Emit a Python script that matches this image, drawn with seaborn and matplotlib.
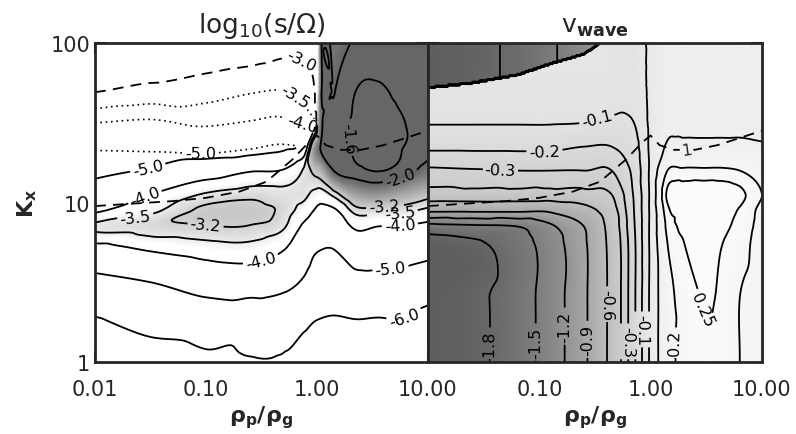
import numpy as np
import matplotlib
matplotlib.use("Agg")
import matplotlib.pyplot as plt
import matplotlib.tri as mtri
from matplotlib.path import Path
from matplotlib.colors import LinearSegmentedColormap
import seaborn as sns

# ---------------- data ----------------
# sampling grid of the left panel (log10 rho_p/rho_g, log10 K_x)
log_rho_left = [-2.0, -1.5, -1.0, -0.6, -0.3, -0.12, -0.03, 0.03, 0.15, 0.35, 0.55, 0.75, 1.0]
log_K_left = [0.0, 0.25, 0.5, 0.7, 0.85, 0.95, 1.05, 1.2, 1.35, 1.5, 1.7, 2.0]

# log10(s/Omega) of the main (solid) branch, one row per K value
log_s_main = [
    [-6.6, -6.5, -6.15, -6.03, -6.08, -6.4, -6.5, -6.6, -6.7, -6.8, -6.7, -6.6, -6.5],
    [-6.1, -5.7, -5.6, -5.75, -5.7, -5.85, -6.0, -6.05, -6.1, -6.05, -6.08, -6.05, -6.3],
    [-5.25, -5.0, -4.6, -4.5, -4.75, -5.1, -5.4, -5.5, -5.5, -5.3, -5.3, -5.3, -5.5],
    [-4.3, -3.97, -3.75, -3.7, -4.0, -4.5, -4.9, -5.0, -5.02, -4.5, -4.5, -4.6, -4.75],
    [-3.42, -3.3, -3.22, -3.22, -3.45, -4.1, -4.4, -4.6, -4.5, -3.9, -4.0, -4.05, -4.15],
    [-4.1, -3.6, -3.12, -3.1, -3.3, -3.7, -4.0, -4.2, -4.1, -3.35, -3.35, -3.4, -3.6],
    [-4.6, -4.0, -3.45, -3.3, -3.38, -3.4, -3.6, -3.7, -3.4, -2.7, -2.55, -2.75, -3.05],
    [-5.2, -4.9, -4.4, -4.05, -3.95, -3.45, -3.1, -2.9, -2.0, -1.72, -1.58, -1.75, -2.2],
    [-5.8, -5.6, -5.6, -5.5, -5.2, -4.6, -2.7, -2.0, -1.85, -1.55, -1.48, -1.57, -1.85],
    [-6.3, -6.2, -6.3, -6.3, -6.0, -5.8, -4.5, -2.3, -1.85, -1.53, -1.45, -1.57, -1.75],
    [-7.0, -6.8, -6.9, -6.9, -6.7, -6.5, -6.0, -2.3, -2.03, -1.6, -1.55, -1.68, -1.8],
    [-7.5, -7.5, -7.5, -7.5, -7.3, -7.2, -7.0, -2.4, -2.2, -1.95, -1.85, -1.9, -2.0],
]

# log10(s/Omega) of the upper (dotted) branch
log_s_upper = [
    [-9.0] * 13,
    [-9.0] * 13,
    [-9.0] * 13,
    [-9.0] * 13,
    [-9.0] * 13,
    [-8.5, -8.5, -8.5, -8.5, -8.5, -8.5, -8.5, -9.0, -9.0, -9.0, -9.0, -9.0, -9.0],
    [-7.5, -7.5, -7.5, -7.5, -7.5, -7.5, -7.5, -9.0, -9.0, -9.0, -9.0, -9.0, -9.0],
    [-5.8, -5.9, -5.9, -6.0, -6.2, -6.0, -6.0, -9.0, -9.0, -9.0, -9.0, -9.0, -9.0],
    [-4.85, -4.8, -4.7, -4.9, -5.1, -4.9, -4.5, -9.0, -9.0, -9.0, -9.0, -9.0, -9.0],
    [-4.0, -4.1, -3.9, -4.05, -4.15, -3.95, -3.8, -2.6, -9.0, -9.0, -9.0, -9.0, -9.0],
    [-2.97, -3.15, -3.3, -3.45, -3.5, -3.3, -3.1, -2.6, -9.0, -9.0, -9.0, -9.0, -9.0],
    [-2.4, -2.5, -2.5, -2.6, -2.8, -2.85, -2.8, -2.6, -9.0, -9.0, -9.0, -9.0, -9.0],
]
levels_main = [-6.0, -5.0, -4.0, -3.5, -3.2, -2.0, -1.6]
levels_upper = [-5.0, -4.0, -3.5]
level_upper_dashed = [-3.0]

# contour label anchors (rho, K) for the left panel
label_at_main = [(5.6, 2.2), (4.6, 3.7), (0.3, 4.9), (5.6, 7.3), (5.6, 8.6), (4.0, 10.3),
                 (5.6, 14.5), (1.7, 25), (0.1, 7.7), (0.023, 8.1), (0.028, 11), (0.03, 16.7)]
label_at_upper = [(0.09, 20.4), (0.78, 34), (0.6, 44.7)]
label_at_dashed = [(0.71, 77)]

# sampling grid of the right panel
log_rho_right = [-2.0, -1.6, -1.2, -0.9, -0.6, -0.35, -0.15, 0.0, 0.15, 0.3, 0.48, 0.65, 0.8, 1.0]
log_K_right = [0.0, 0.4, 0.75, 0.85, 0.95, 1.05, 1.2, 1.35, 1.5, 1.65, 1.72, 1.8, 1.9, 2.0]
v_wave = [
    [-1.95, -1.87, -1.64, -1.36, -0.95, -0.53, -0.22, 0.02, 0.17, 0.215, 0.245, 0.235, 0.2, 0.17],
    [-1.95, -1.87, -1.64, -1.36, -0.95, -0.53, -0.22, 0.02, 0.17, 0.22, 0.253, 0.24, 0.2, 0.17],
    [-1.92, -1.84, -1.62, -1.35, -0.94, -0.52, -0.22, 0.02, 0.2, 0.25, 0.265, 0.25, 0.225, 0.17],
    [-1.6, -1.55, -1.5, -1.25, -0.9, -0.5, -0.21, 0.02, 0.215, 0.258, 0.268, 0.258, 0.235, 0.175],
    [-0.85, -0.85, -0.85, -0.85, -0.7, -0.46, -0.2, 0.02, 0.235, 0.265, 0.272, 0.265, 0.245, 0.18],
    [-0.48, -0.47, -0.47, -0.47, -0.45, -0.4, -0.19, 0.02, 0.26, 0.285, 0.29, 0.285, 0.265, 0.2],
    [-0.32, -0.31, -0.3, -0.3, -0.3, -0.3, -0.17, 0.02, 0.2, 0.21, 0.21, 0.21, 0.2, 0.17],
    [-0.18, -0.18, -0.18, -0.18, -0.2, -0.2, -0.14, 0.02, 0.11, 0.12, 0.12, 0.12, 0.12, 0.11],
    [-0.095, -0.095, -0.095, -0.095, -0.1, -0.12, -0.1, 0.02, 0.08, 0.08, 0.08, 0.08, 0.08, 0.08],
    [-0.06, -0.06, -0.06, -0.06, -0.06, -0.07, -0.07, 0.02, 0.08, 0.08, 0.08, 0.08, 0.08, 0.08],
    [-0.055, -0.055, -0.055, -0.055, -0.055, -0.06, -0.06, 0.02, 0.08, 0.08, 0.08, 0.08, 0.08, 0.08],
    [-0.05, -0.05, -0.05, -0.05, -0.05, -0.05, -0.05, 0.02, 0.08, 0.08, 0.08, 0.08, 0.08, 0.08],
    [-0.05, -0.05, -0.05, -0.05, -0.05, -0.05, -0.05, 0.02, 0.08, 0.08, 0.08, 0.08, 0.08, 0.08],
    [-0.05, -0.05, -0.05, -0.05, -0.05, -0.05, -0.05, 0.02, 0.08, 0.08, 0.08, 0.08, 0.08, 0.08],
]
# dark cap in the upper left of the right panel: lower edge (log10 K) and value, per column
cap_edge_logK = [1.72, 1.75, 1.8, 1.87, 1.93, 2.05, 2.1, 2.1, 2.1, 2.1, 2.1, 2.1, 2.1, 2.1]
cap_value = [-1.95, -1.88, -1.75, -1.55, -1.3, -1.1, -1.0, -1.0, -1.0, -1.0, -1.0, -1.0, -1.0, -1.0]
levels_right = [-1.8, -1.5, -1.2, -0.9, -0.6, -0.4, -0.3, -0.2, -0.1, 0.0, 0.1, 0.2, 0.25]
label_at_right = [(0.35, 30), (0.112, 21), (0.045, 17.9), (0.035, 1.26), (0.095, 1.33),
                  (0.155, 1.68), (0.26, 1.39), (0.41, 2.3), (0.66, 1.35),
                  (0.85, 1.6), (1.49, 1.33), (2.9, 2.15)]
dash_label = "1"
dash_label_at = (2.1, 21.4)

# dashed curve drawn in both panels
rho_dash = [0.01, 0.02, 0.05, 0.1, 0.2, 0.35, 0.6, 0.85, 1.0, 1.2, 1.6, 2.5, 4.0, 6.0, 10.0]
K_dash = [9.5, 9.8, 10.2, 10.7, 11.7, 13.5, 18.6, 24.0, 26.3, 22.9, 21.4, 21.4, 22.9, 25.1, 28.2]

x_ticks = [0.01, 0.1, 1.0, 10.0]
x_ticklabels_left = ["0.01", "0.10", "1.00", "10.00"]
x_ticklabels_right = ["", "0.10", "1.00", "10.00"]
y_ticks = [1, 10, 100]
y_ticklabels = ["1", "10", "100"]

# ---------------- helpers ----------------
def smooth_field(log_x, log_y, table, nx=361, ny=241):
    """Cubic (matplotlib.tri) resampling of a table onto a fine regular grid."""
    gx, gy = np.meshgrid(np.asarray(log_x, float), np.asarray(log_y, float))
    tri = mtri.Triangulation(gx.ravel(), gy.ravel())
    interp = mtri.CubicTriInterpolator(tri, np.asarray(table, float).ravel(), kind="geom")
    eps = 1e-9
    ux = np.linspace(min(log_x) + eps, max(log_x) - eps, nx)
    vy = np.linspace(min(log_y) + eps, max(log_y) - eps, ny)
    UX, VY = np.meshgrid(ux, vy)
    Z = np.ma.filled(interp(UX, VY), np.nan)
    return UX, VY, Z


def fmt_level(v):
    if abs(round(v, 1) - v) > 1e-6:
        return "%.2f" % v
    return "%.1f" % v


def cut_label_gaps(ax, cs, texts, pad=2.0):
    """Open a gap in the contour lines under each label (like inline labels)."""
    renderer = ax.figure.canvas.get_renderer()
    boxes = []
    for t in texts:
        rot = t.get_rotation()
        t.set_rotation(0)
        bb = t.get_window_extent(renderer)
        t.set_rotation(rot)
        cx, cy = ax.transData.transform(t.get_position())
        th = np.deg2rad(rot)
        boxes.append((cx, cy, bb.width / 2 + pad, bb.height / 2, np.cos(th), np.sin(th)))
    new_paths = []
    for p in cs.get_paths():
        v = np.array(p.vertices, float)
        if len(v) == 0 or not boxes:
            new_paths.append(p)
            continue
        if p.codes is None:
            c = np.full(len(v), Path.LINETO, dtype=Path.code_type)
            c[0] = Path.MOVETO
        else:
            c = np.array(p.codes, dtype=Path.code_type)
        last = 0
        for i in range(len(c)):
            if c[i] == Path.MOVETO:
                last = i
            elif c[i] == Path.CLOSEPOLY:
                v[i] = v[last]
                c[i] = Path.LINETO
        d = ax.transData.transform(v)
        keep = np.ones(len(v), bool)
        for cx, cy, hw, hh, co, si in boxes:
            dx = d[:, 0] - cx
            dy = d[:, 1] - cy
            xr = dx * co + dy * si
            yr = -dx * si + dy * co
            keep &= ~((np.abs(xr) < hw) & (np.abs(yr) < hh))
        newc = c.copy()
        prev = False
        for i in range(len(c)):
            if keep[i]:
                if not prev:
                    newc[i] = Path.MOVETO
                prev = True
            else:
                prev = False
        new_paths.append(Path(v[keep], newc[keep]))
    cs._paths = new_paths


def label(ax, cs, anchors, size=11.5):
    texts = ax.clabel(cs, fmt=fmt_level, fontsize=size, inline=False, manual=anchors)
    cut_label_gaps(ax, cs, texts)


# ---------------- style ----------------
sns.set_style("ticks")
plt.rcParams["font.family"] = ["DejaVu Sans"]
plt.rcParams["axes.linewidth"] = 2.0
plt.rcParams["mathtext.default"] = "regular"
plt.rcParams["contour.negative_linestyle"] = "solid"

fig = plt.figure(figsize=(7.96, 4.35), dpi=100)
ax1 = fig.add_axes([95 / 796, 72 / 435, 333 / 796, 319 / 435])
ax2 = fig.add_axes([428 / 796, 72 / 435, 334 / 796, 319 / 435])

for ax in (ax1, ax2):
    ax.set_xscale("log")
    ax.set_yscale("log")
    ax.set_xlim(0.01, 10)
    ax.set_ylim(1, 100)
    ax.tick_params(which="both", direction="in", top=True, right=True, width=1.5, labelsize=15)
    ax.tick_params(which="major", length=8)
    ax.tick_params(which="minor", length=4)
    ax.tick_params(axis="x", which="major", pad=12)
    ax.set_xlabel(r"$\rho_{p}/\rho_{g}$", fontsize=16, fontweight="bold", labelpad=3)
    for s in ax.spines.values():
        s.set_linewidth(2.0)
        s.set_zorder(5)

ax1.set_xticks(x_ticks, labels=x_ticklabels_left)
ax2.set_xticks(x_ticks, labels=x_ticklabels_right)
ax1.set_yticks(y_ticks, labels=y_ticklabels)
ax2.set_yticks(y_ticks, labels=["", "", ""])
ax1.set_ylabel(r"K$_{x}$", fontsize=16, fontweight="bold", labelpad=8)
ax1.set_title(r"log$_{10}$(s/$\Omega$)", fontsize=19, pad=8)
ax2.set_title(r"v$_{\bf wave}$", fontsize=18, pad=8)

# ---------------- left panel ----------------
UX, VY, ZL = smooth_field(log_rho_left, log_K_left, log_s_main)
_, _, ZU = smooth_field(log_rho_left, log_K_left, log_s_upper)
X, Y = 10 ** UX, 10 ** VY
upper_wins = ZU > ZL

cmap_left = LinearSegmentedColormap.from_list("l", [(1, 1, 1), (0.40, 0.40, 0.40)])
ax1.pcolormesh(X, Y, ZL, shading="gouraud", cmap=cmap_left, vmin=-3.7, vmax=-2.0,
               rasterized=True)

cs_main = ax1.contour(X, Y, np.ma.masked_where(upper_wins, ZL), levels=levels_main,
                      colors="k", linewidths=1.3, linestyles="solid")
label(ax1, cs_main, label_at_main)
ZU_vis = np.ma.masked_where(~upper_wins, ZU)
cs_up = ax1.contour(X, Y, ZU_vis, levels=levels_upper, colors="k", linewidths=1.2,
                    linestyles=[(0, (1, 2.2))])
label(ax1, cs_up, label_at_upper)
cs_up2 = ax1.contour(X, Y, ZU_vis, levels=level_upper_dashed, colors="k", linewidths=1.3,
                     linestyles=[(0, (6, 4))])
label(ax1, cs_up2, label_at_dashed)
ax1.plot(rho_dash, K_dash, color="k", lw=1.3, dashes=(6, 4))

# ---------------- right panel ----------------
UR, VR, ZR = smooth_field(log_rho_right, log_K_right, v_wave)
edge = np.interp(UR, log_rho_right, cap_edge_logK)
capv = np.interp(UR, log_rho_right, cap_value)
ZR = np.where(VR > edge, capv, ZR)
XR, YR = 10 ** UR, 10 ** VR

cmap_right = LinearSegmentedColormap.from_list("r", [(0.37, 0.37, 0.37), (0.985, 0.985, 0.985)])
ax2.pcolormesh(XR, YR, ZR, shading="gouraud", cmap=cmap_right, vmin=-1.95, vmax=0.27,
               rasterized=True)
cs_r = ax2.contour(XR, YR, ZR, levels=levels_right, colors="k", linewidths=1.3,
                   linestyles="solid")
label(ax2, cs_r, label_at_right)
ax2.plot(rho_dash, K_dash, color="k", lw=1.3, dashes=(6, 4))
ax2.text(dash_label_at[0], dash_label_at[1], dash_label, fontsize=11.5, ha="center",
         va="center", rotation=8,
         bbox=dict(boxstyle="square,pad=0.1", fc=(0.94, 0.94, 0.94), ec="none"))

fig.savefig("out.png", dpi=100)
